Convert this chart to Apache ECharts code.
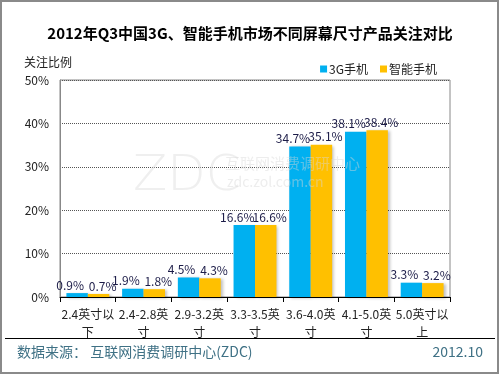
<!DOCTYPE html>
<html>
<head>
<meta charset="utf-8">
<script src="https://cdn.jsdelivr.net/npm/echarts@6/dist/echarts.min.js"></script>
<style>
html,body{margin:0;padding:0;background:#fff;}
#box{width:500px;height:375px;}
</style>
</head>
<body>
<div id="box"></div>
<script>
var categories=['2.4英寸以\n下','2.4-2.8英\n寸','2.9-3.2英\n寸','3.3-3.5英\n寸','3.6-4.0英\n寸','4.1-5.0英\n寸','5.0英寸以\n上']
var seriesNames=['3G手机','智能手机']
var g3Values=[0.9,1.9,4.5,16.6,34.7,38.1,3.3]
var smartValues=[0.7,1.8,4.3,16.6,35.1,38.4,3.2]

var font='"Noto Sans CJK SC", "Noto Sans", sans-serif'
var labelColor='#1c1c48'

var mychart=echarts.init(document.getElementById('box'))

function barSeries(name,data,color,dx){
	return {
		name:name,
		type:'bar',
		data:data,
		barGap:0,
		barCategoryGap:'23%',
		itemStyle:{
			color:color,
			shadowColor:'rgba(0,0,0,0.25)',
			shadowBlur:3,
			shadowOffsetX:2,
			shadowOffsetY:1
		},
		label:{
			show:true,
			position:'top',
			distance:2,
			offset:[dx,0],
			formatter:'{c}%',
			color:labelColor,
			fontSize:12,
			fontFamily:font
		}
	}
}

var option={
	animation:false,
	textStyle:{fontFamily:font},
	title:{
		text:'2012年Q3中国3G、智能手机市场不同屏幕尺寸产品关注对比',
		left:'center',
		top:21,
		textStyle:{fontSize:15,fontWeight:'bold',color:'#000',fontFamily:font}
	},
	legend:{
		data:seriesNames,
		right:58,
		top:58,
		itemWidth:7,
		itemHeight:7,
		itemGap:12,
		icon:'rect',
		textStyle:{fontSize:12,color:'#222',fontFamily:font,padding:[0,0,0,-3]}
	},
	grid:{
		left:60,
		right:50,
		top:80,
		bottom:78,
		show:true,
		borderColor:'#888',
		borderWidth:1
	},
	xAxis:{
		type:'category',
		data:categories,
		axisLine:{lineStyle:{color:'#000',width:1}},
		axisTick:{show:true,length:5,lineStyle:{color:'#000'}},
		axisLabel:{
			interval:0,
			color:'#222',
			fontSize:12,
			lineHeight:18,
			margin:8,
			fontFamily:font
		}
	},
	yAxis:{
		type:'value',
		name:'关注比例',
		nameLocation:'end',
		nameGap:12,
		nameTextStyle:{fontSize:12,color:'#222',align:'left',padding:[0,0,0,-36],fontFamily:font},
		min:0,
		max:50,
		interval:10,
		axisLine:{show:true,lineStyle:{color:'#888'}},
		axisTick:{show:false},
		axisLabel:{formatter:'{value}%',color:'#222',fontSize:12,margin:11,fontFamily:font},
		splitLine:{lineStyle:{type:'dotted',color:'#555',width:1}}
	},
	graphic:[
		{
			type:'rect',
			shape:{x:1,y:1,width:497,height:372},
			style:{fill:'none',stroke:'#8a8a8a',lineWidth:2},
			silent:true
		},
		{
			type:'line',
			shape:{x1:5,y1:338.5,x2:495,y2:338.5},
			style:{stroke:'#000',lineWidth:1}
		},
		{
			type:'text',
			left:17,
			top:345,
			style:{text:'数据来源： 互联网消费调研中心(ZDC)',fill:'#3f7185',fontSize:14,fontFamily:font}
		},
		{
			type:'text',
			right:17,
			top:345,
			style:{text:'2012.10',fill:'#3f7185',fontSize:14,fontFamily:font}
		},
		// watermark, drawn over the bars like the original
		{
			type:'text',
			left:133,
			top:152,
			z:50,
			silent:true,
			style:{text:'ZDC',fill:'rgba(215,215,215,0.4)',fontSize:50,fontFamily:'DejaVu Sans',fontWeight:'lighter'}
		},
		{
			type:'text',
			left:225,
			top:156,
			z:50,
			silent:true,
			style:{text:'互联网消费调研中心',fill:'rgba(215,215,215,0.45)',fontSize:15,fontFamily:font}
		},
		{
			type:'text',
			left:227,
			top:175,
			z:50,
			silent:true,
			style:{text:'zdc.zol.com.cn',fill:'rgba(215,215,215,0.45)',fontSize:14,fontFamily:font}
		}
	],
	series:[
		barSeries(seriesNames[0],g3Values,'#00b0f0',-7),
		barSeries(seriesNames[1],smartValues,'#ffc000',4)
	]
}
mychart.setOption(option)
</script>
</body>
</html>
